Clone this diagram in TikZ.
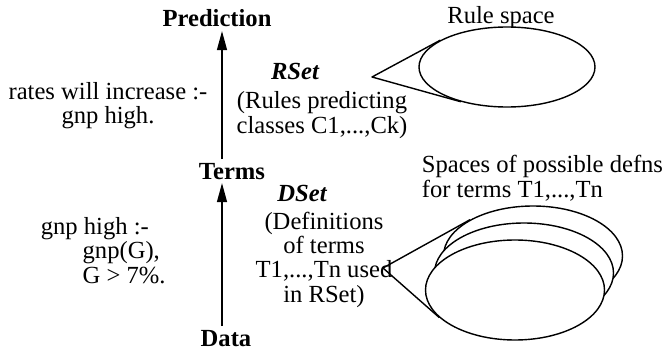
\documentclass[tikz,border=0pt]{standalone}
\usepackage{fontspec}
\setmainfont{Liberation Serif}
\usetikzlibrary{arrows.meta, shapes.geometric}

\begin{document}
\begin{tikzpicture}[
  txt/.style={font=\fontsize{14}{13.7}\selectfont, inner sep=2pt, anchor=base},
  level/.style={txt, font=\fontsize{14}{13.7}\selectfont\bfseries},
  setname/.style={txt, font=\fontsize{14}{13.7}\selectfont\bfseries\itshape},
  space/.style={draw, ellipse, line width=0.8pt, fill=white, inner sep=0pt,
    minimum width=3.58cm, minimum height=2cm},
  callout/.style={line width=0.8pt, line join=round},
  flow/.style={->, line width=0.7pt},
  >={Triangle[length=0.38cm, width=0.2cm]}
]
  \useasboundingbox (0,0) rectangle (13.3,6.98);

  % --- levels ---
  \node[level] (prediction) at (4.34, 6.44) {Prediction};
  \node[level] (terms) at (4.64, 3.40) {Terms};
  \node[level] (data) at (4.52, 0.06) {Data};
  \coordinate (axis) at (4.44, 0);

  \draw[flow] (terms.north -| axis) -- (prediction.south -| axis);
  \draw[flow] (data.north -| axis) -- (terms.south -| axis);

  % --- rules (upper half) ---
  \node[txt, align=center] (rateseg) at (2.16, 4.50)
    {rates will increase :-\\gnp high.};
  \node[setname] (rset) at (5.90, 5.38) {RSet};
  \node[txt, align=center] (rsetdesc) at (6.44, 4.32)
    {(Rules predicting\\classes C1,...,Ck)};

  \node[txt] (rulelbl) at (10.02, 6.50) {Rule space};
  \coordinate (rtip) at (7.44, 5.44);
  \node[space, minimum width=3.52cm, minimum height=1.6cm] (rulespace)
    at (10.14, 5.64) {};
  \draw[callout] (rulespace.158.8) -- (rtip) -- (rulespace.217);

  % --- definitions (lower half) ---
  \node[txt, anchor=base west, align=left] (gnpeg) at (0.74, 1.32)
    {gnp high :-\\\hspace*{1.7em}gnp(G),\\\hspace*{1.7em}G > 7\%.};
  \node[setname] (dset) at (6.04, 2.94) {DSet};
  \node[txt, align=center] (dsetdesc) at (6.48, 0.94)
    {(Definitions\\of terms\\T1,...,Tn used\\in RSet)};

  \node[txt, anchor=base west, align=left] (defnlbl) at (8.36, 3.04)
    {Spaces of possible defns\\for terms T1,...,Tn};
  \coordinate (dtip) at (7.66, 1.62);
  \node[space] (defback) at (10.66, 1.86) {};
  \node[space] (defmid) at (10.48, 1.52) {};
  \node[space] (deffront) at (10.30, 1.18) {};
  \draw[callout] (defback.150) -- (dtip) -- (deffront.200);
\end{tikzpicture}
\end{document}
